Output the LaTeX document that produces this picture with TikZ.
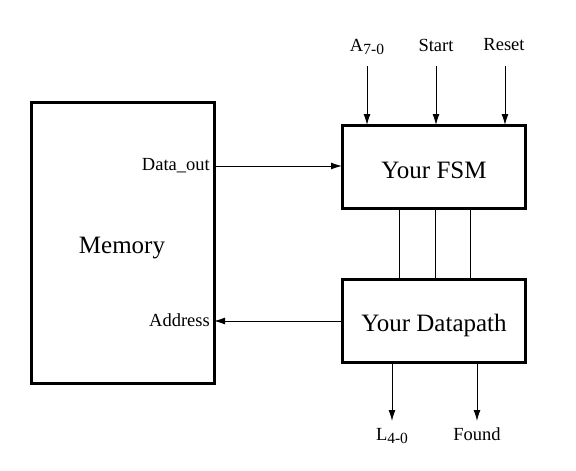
\documentclass[tikz,border=0pt]{standalone}
\usepackage{fontspec}
\setmainfont{Liberation Serif}
\usetikzlibrary{arrows.meta}
\newcommand{\mysub}[1]{\raisebox{-0.35ex}{\fontsize{15.5}{16}\selectfont #1}}
\tikzset{
  blk/.style={draw, line width=3pt, inner sep=0pt},
  sig/.style={line width=1pt, -{Latex[length=11pt,width=7pt]}},
  wire/.style={line width=1pt},
  lbl/.style={font=\fontsize{18.5}{20}\selectfont, inner sep=1pt},
  big/.style={font=\fontsize{25}{28}\selectfont}
}
\begin{document}
\begin{tikzpicture}[x=1pt,y=-1pt]
\useasboundingbox (0,0) rectangle (576,471);
% boxes
\draw[blk] (31,102) rectangle (214,383);
\node[big] (mem) at (122,248) {Memory};
\draw[blk] (342,125) rectangle (525,208);
\node[big] (fsm) at (434,170) {Your FSM};
\draw[blk] (342,279) rectangle (525,362);
\node[big] (dp) at (434,325) {Your Datapath};
% named anchor coordinates
\coordinate (memDo) at (214,166);
\coordinate (fsmDi) at (342,166);
\coordinate (memAd) at (214,321);
\coordinate (dpAd) at (342,321);
% labels
\node[lbl, anchor=east] (dout) at (211,166) {Data\_out};
\node[lbl, anchor=east] (addr) at (211,320) {Address};
\node[lbl] (a70) at (367,47) {A\mysub{7-0}};
\node[lbl] (start) at (436,45) {Start};
\node[lbl] (reset) at (504,45) {Reset};
\node[lbl] (l40) at (392,436) {L\mysub{4-0}};
\node[lbl] (found) at (477,434) {Found};
% top inputs
\coordinate (a70t) at (367,66);
\coordinate (startt) at (436,66);
\coordinate (resett) at (505,66);
\coordinate (a70b) at (367,125);
\coordinate (startb) at (436,125);
\coordinate (resetb) at (505,125);
\draw[sig] (a70t) -- (a70b);
\draw[sig] (startt) -- (startb);
\draw[sig] (resett) -- (resetb);
% data flows
\draw[sig] (memDo) -- (fsmDi);
\draw[sig] (dpAd) -- (memAd);
% control wires
\foreach \x in {399,435,470} {
  \draw[wire] (\x,208) -- (\x,279);
}
% bottom outputs
\coordinate (l40t) at (392,362);
\coordinate (foundt) at (477,362);
\coordinate (l40b) at (392,421);
\coordinate (foundb) at (477,421);
\draw[sig] (l40t) -- (l40b);
\draw[sig] (foundt) -- (foundb);
\end{tikzpicture}
\end{document}
